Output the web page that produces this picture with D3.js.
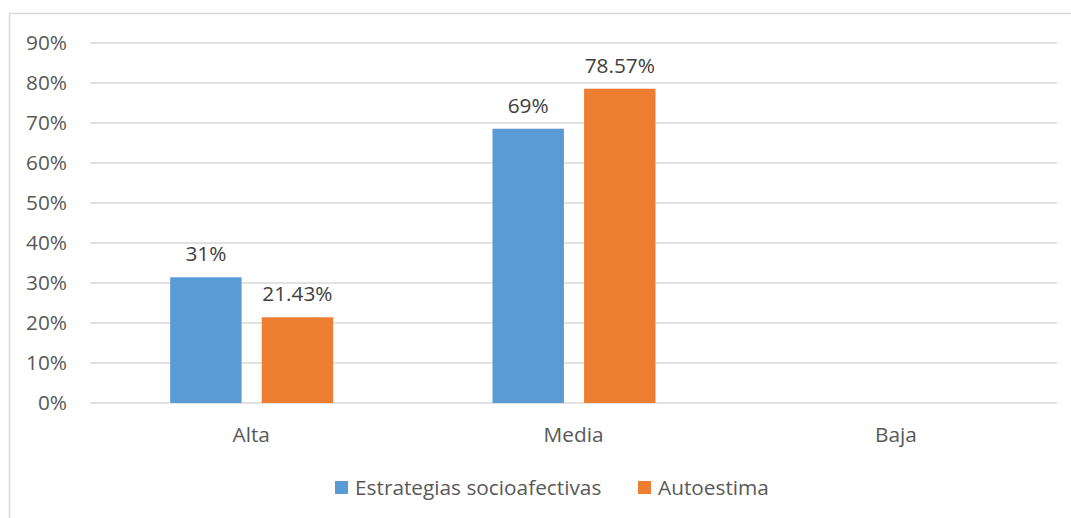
<!DOCTYPE html>
<html>
<head>
<meta charset="utf-8">
<script src="https://cdn.jsdelivr.net/npm/d3@7"></script>
<style>
  body { margin: 0; background: #fff; }
  text { font-family: "Open Sans", "Noto Sans", sans-serif; fill: #595959; }
</style>
</head>
<body>
<div id="chart"></div>
<script>
// chart data
var categories = ["Alta", "Media", "Baja"];
var seriesNames = ["Estrategias socioafectivas", "Autoestima"];
var estrategias = [0.3143, 0.6857, null];
var autoestima = [0.2143, 0.7857, null];
var seriesColors = ["#5b9bd5", "#ed7d31"];
var labelFormats = [d3.format(".0%"), d3.format(".2%")];
var yTicks = [0, 0.1, 0.2, 0.3, 0.4, 0.5, 0.6, 0.7, 0.8, 0.9];

var svgWidth = 1071;
var svgHeight = 518;

var margin = { top: 43, right: 14, bottom: 115, left: 90 };
var width = svgWidth - margin.left - margin.right;
var height = svgHeight - margin.top - margin.bottom;
var fontSize = "20.8px";

var svg = d3.select("#chart")
  .append("svg")
  .attr("width", svgWidth)
  .attr("height", svgHeight);

// outer chart border (left + top only visible)
svg.append("path")
  .attr("d", "M9.5,518 V13.5 H1071")
  .attr("fill", "none")
  .attr("stroke", "#d9d9d9")
  .attr("stroke-width", 1.5);

var g = svg.append("g")
  .attr("transform", `translate(${margin.left}, ${margin.top})`);

// scales
var xScale = d3.scaleBand()
  .domain(categories)
  .range([0, width]);

var xInner = d3.scaleBand()
  .domain(seriesNames)
  .range([xScale.bandwidth() / 2 - 81, xScale.bandwidth() / 2 + 82])
  .paddingInner(0.22);

var yScale = d3.scaleLinear()
  .domain([0, 0.9])
  .range([height, 0]);

// gridlines
g.append("g")
  .selectAll("line")
  .data(yTicks)
  .enter()
  .append("line")
  .attr("x1", 0)
  .attr("x2", width)
  .attr("y1", d => yScale(d))
  .attr("y2", d => yScale(d))
  .attr("stroke", "#d9d9d9")
  .attr("stroke-width", 1.3);

// y axis
var leftAxis = d3.axisLeft(yScale)
  .tickValues(yTicks)
  .tickFormat(d3.format(".0%"))
  .tickSize(0)
  .tickPadding(23);

g.append("g")
  .call(leftAxis)
  .call(a => a.select(".domain").remove())
  .selectAll("text")
  .style("font-size", fontSize)
  .attr("fill", "#595959");

// x axis
var bottomAxis = d3.axisBottom(xScale).tickSize(0).tickPadding(24);
g.append("g")
  .attr("transform", `translate(0, ${height})`)
  .call(bottomAxis)
  .call(a => a.select(".domain").remove())
  .selectAll("text")
  .style("font-size", fontSize)
  .attr("fill", "#595959");

var allSeries = [estrategias, autoestima];

allSeries.forEach(function(values, si) {
  var pts = categories.map((c, i) => ({ cat: c, v: values[i] })).filter(d => d.v != null);

  g.selectAll(".bar" + si)
    .data(pts)
    .enter()
    .append("rect")
    .attr("x", d => xScale(d.cat) + xInner(seriesNames[si]))
    .attr("y", d => yScale(d.v))
    .attr("width", xInner.bandwidth())
    .attr("height", d => height - yScale(d.v))
    .attr("fill", seriesColors[si]);

  g.selectAll(".lbl" + si)
    .data(pts)
    .enter()
    .append("text")
    .attr("x", d => xScale(d.cat) + xInner(seriesNames[si]) + xInner.bandwidth() / 2)
    .attr("y", d => yScale(d.v) - 16)
    .attr("text-anchor", "middle")
    .style("font-size", fontSize)
    .style("fill", "#404040")
    .text(d => labelFormats[si](d.v));
});

// legend
var legendX = [335, 638];
var legend = svg.append("g");
seriesNames.forEach(function(name, i) {
  legend.append("rect")
    .attr("x", legendX[i])
    .attr("y", 481)
    .attr("width", 13)
    .attr("height", 13)
    .attr("fill", seriesColors[i]);
  legend.append("text")
    .attr("x", legendX[i] + 20)
    .attr("y", 495)
    .style("font-size", fontSize)
    .text(name);
});
</script>
</body>
</html>
